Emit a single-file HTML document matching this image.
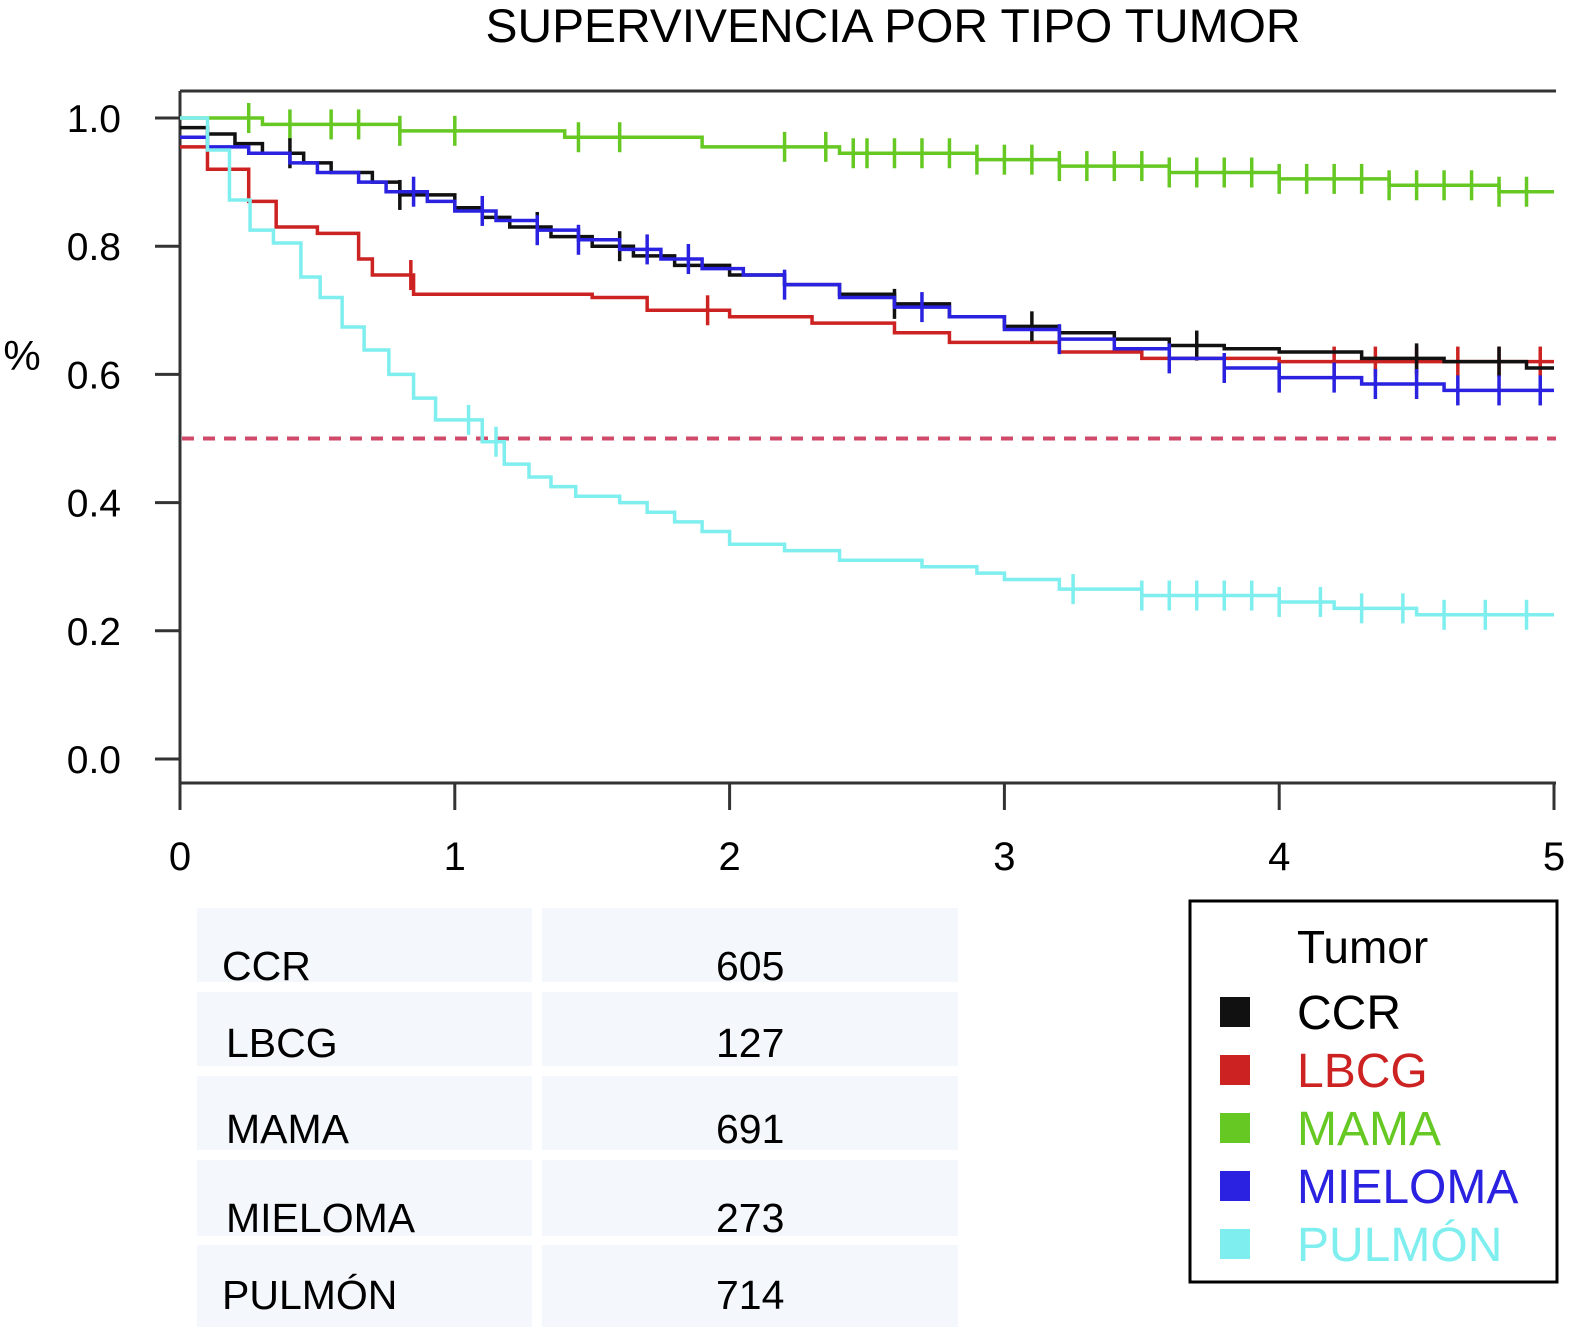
<!DOCTYPE html>
<html><head><meta charset="utf-8"><style>
body{margin:0;background:#fff;width:1579px;height:1327px;overflow:hidden;font-family:"Liberation Sans",sans-serif}
svg{position:absolute;left:0;top:0}
</style></head><body>
<svg width="1579" height="1327">
<text x="893" y="42" font-size="47" text-anchor="middle" textLength="815" lengthAdjust="spacingAndGlyphs">SUPERVIVENCIA POR TIPO TUMOR</text>
<g id="axes"></g>
<g id="series"></g>
<g font-size="41">
<rect x="197" y="908" width="335" height="74" fill="#f4f8fc"/><rect x="542" y="908" width="416" height="74" fill="#f4f8fc"/>
<rect x="197" y="992" width="335" height="74" fill="#f4f8fc"/><rect x="542" y="992" width="416" height="74" fill="#f4f8fc"/>
<rect x="197" y="1076" width="335" height="74" fill="#f4f8fc"/><rect x="542" y="1076" width="416" height="74" fill="#f4f8fc"/>
<rect x="197" y="1160" width="335" height="76" fill="#f4f8fc"/><rect x="542" y="1160" width="416" height="76" fill="#f4f8fc"/>
<rect x="197" y="1245" width="335" height="82" fill="#f4f8fc"/><rect x="542" y="1245" width="416" height="82" fill="#f4f8fc"/>
<text x="222" y="980">CCR</text><text x="716" y="980">605</text>
<text x="226" y="1057">LBCG</text><text x="716" y="1057">127</text>
<text x="226" y="1143">MAMA</text><text x="716" y="1143">691</text>
<text x="226" y="1232">MIELOMA</text><text x="716" y="1232">273</text>
<text x="222" y="1309">PULMÓN</text><text x="716" y="1309">714</text>
</g>
<g>
<rect x="1190" y="901" width="367" height="381" fill="#fff" stroke="#000" stroke-width="3"/>
<text x="1297" y="963" font-size="46">Tumor</text>
<g id="legend-items"></g>
</g>
</svg>
<script>
const NS="http://www.w3.org/2000/svg";
const seriesNames=["CCR","LBCG","MAMA","MIELOMA","PULMÓN"];
const seriesColors=["#111111","#cc2222","#66c822","#2a22e0","#7feeee"];
const ccrT=[0,0.1,0.2,0.3,0.45,0.55,0.7,0.8,1.0,1.1,1.2,1.35,1.5,1.65,1.8,2.0,2.2,2.4,2.6,2.8,3.0,3.2,3.4,3.6,3.8,4.0,4.3,4.6,4.9];
const ccrV=[0.985,0.975,0.96,0.945,0.93,0.915,0.9,0.88,0.86,0.845,0.83,0.815,0.8,0.785,0.77,0.755,0.74,0.725,0.71,0.69,0.675,0.665,0.655,0.645,0.64,0.635,0.625,0.62,0.61];
const lbcgT=[0,0.1,0.25,0.35,0.5,0.65,0.7,0.85,1.5,1.7,2.0,2.3,2.6,2.8,3.2,3.5,4.0];
const lbcgV=[0.955,0.92,0.87,0.83,0.82,0.78,0.755,0.725,0.72,0.70,0.69,0.68,0.665,0.65,0.635,0.625,0.62];
const mamaT=[0,0.3,0.8,1.4,1.9,2.4,2.9,3.2,3.6,4.0,4.4,4.8];
const mamaV=[1.0,0.99,0.98,0.97,0.955,0.945,0.935,0.925,0.915,0.905,0.895,0.885];
const mielT=[0,0.1,0.25,0.4,0.5,0.65,0.75,0.9,1.0,1.15,1.3,1.45,1.6,1.75,1.9,2.05,2.2,2.4,2.6,2.8,3.0,3.2,3.4,3.6,3.8,4.0,4.3,4.6];
const mielV=[0.97,0.955,0.945,0.93,0.915,0.9,0.885,0.87,0.855,0.84,0.825,0.81,0.795,0.78,0.765,0.755,0.74,0.72,0.705,0.69,0.67,0.655,0.64,0.625,0.61,0.595,0.585,0.575];
const pulT=[0,0.1,0.18,0.255,0.34,0.44,0.51,0.59,0.67,0.76,0.85,0.93,1.1,1.18,1.27,1.35,1.44,1.6,1.7,1.8,1.9,2.0,2.2,2.4,2.7,2.9,3.0,3.2,3.5,4.0,4.2,4.5];
const pulV=[1.0,0.95,0.872,0.825,0.805,0.752,0.72,0.674,0.638,0.60,0.563,0.529,0.495,0.46,0.44,0.425,0.41,0.40,0.385,0.37,0.355,0.335,0.325,0.31,0.30,0.29,0.28,0.265,0.255,0.245,0.235,0.225];
const ccrC=[0.4,0.8,1.3,1.6,2.6,3.1,3.7,4.5,4.8];
const lbcgC=[0.84,1.92,4.2,4.35,4.5,4.65,4.8,4.95];
const mamaC=[0.25,0.4,0.55,0.65,0.8,1.0,1.45,1.6,2.2,2.35,2.45,2.5,2.6,2.7,2.8,2.9,3.0,3.1,3.2,3.3,3.4,3.5,3.6,3.7,3.8,3.9,4.0,4.1,4.2,4.3,4.4,4.5,4.6,4.7,4.8,4.9];
const mielC=[0.85,1.1,1.3,1.45,1.7,1.85,2.2,2.7,3.2,3.6,3.8,4.0,4.2,4.35,4.5,4.65,4.8,4.95];
const pulC=[1.05,1.15,3.25,3.5,3.6,3.7,3.8,3.9,4.0,4.15,4.3,4.45,4.6,4.75,4.9];
const xTicks=[0,1,2,3,4,5];
const yTicks=[0,0.2,0.4,0.6,0.8,1.0];
const X=t=>180+274.8*t, Y=v=>759-641*v;
function el(tag,attrs,parent){const e=document.createElementNS(NS,tag);for(const k in attrs)e.setAttribute(k,attrs[k]);parent.appendChild(e);return e;}
const ax=document.getElementById('axes');
const frame=el('path',{d:`M180 91 H1556 M180 91 V783 H1556`,fill:'none',stroke:'#333','stroke-width':3},ax);


xTicks.forEach(t=>{
 const l=el('line',{x1:X(t),x2:X(t),y1:783,y2:810,stroke:'#333','stroke-width':3},ax);
 
 
 const tx=el('text',{x:X(t),y:870,'font-size':40,'text-anchor':'middle'},ax);tx.textContent=t;
 
 
});
yTicks.forEach(v=>{
 const l=el('line',{x1:155,x2:180,y1:Y(v),y2:Y(v),stroke:'#333','stroke-width':3},ax);
 
 
 const tx=el('text',{x:121,y:Y(v)+14,'font-size':39,'text-anchor':'end'},ax);tx.textContent=v.toFixed(1);
 
 
});
const yl=el('text',{x:22,y:370,'font-size':42,'text-anchor':'middle'},ax);yl.textContent='%';


const ref=el('line',{x1:182,x2:1556,y1:Y(0.5),y2:Y(0.5),stroke:'#d04a6a','stroke-width':4,'stroke-dasharray':'12 9'},ax);


const sg=document.getElementById('series');
const allT=[ccrT,lbcgT,mamaT,mielT,pulT],allV=[ccrV,lbcgV,mamaV,mielV,pulV],allC=[ccrC,lbcgC,mamaC,mielC,pulC];
function valAt(T,V,t){let v=V[0];for(let i=0;i<T.length;i++){if(T[i]<=t)v=V[i];}return v;}
[2,1,0,3,4].forEach(i=>{
 const T=allT[i],V=allV[i];let d=`M${X(T[0])} ${Y(V[0])}`;
 for(let k=1;k<T.length;k++){d+=` H${X(T[k])} V${Y(V[k])}`;}
 d+=` H${X(5)}`;
 const p=el('path',{d,fill:'none',stroke:seriesColors[i],'stroke-width':3.5},sg);
 
 
 allC[i].forEach(t=>{
  const y=Y(valAt(T,V,t));
  const c=el('line',{x1:X(t),x2:X(t),y1:y-15,y2:y+15,stroke:seriesColors[i],'stroke-width':3.5},sg);
  
  
 });
});
const lg=document.getElementById('legend-items');
seriesNames.forEach((n,i)=>{
 const cy=1012+i*58;
 const r=el('rect',{x:1220,y:cy-15,width:30,height:30,fill:seriesColors[i]},lg);
 
 
 const t=el('text',{x:1297,y:cy+17,'font-size':48,fill:i==0?'#000':seriesColors[i]},lg);t.textContent=n;
 
 
});
</script>
</body></html>
